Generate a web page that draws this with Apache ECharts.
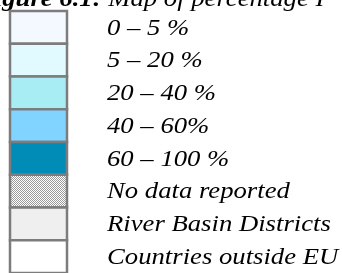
<!DOCTYPE html>
<html>
<head>
<meta charset="utf-8">
<style>
  html, body { margin: 0; padding: 0; background: #fff; }
  #chart { width: 342px; height: 273px; }
</style>
<script src="https://cdn.jsdelivr.net/npm/echarts@6/dist/echarts.min.js"></script>
</head>
<body>
<div id="chart"></div>
<script>
  // legend classes, top to bottom
  const classes = [
    '0 – 5 %',
    '5 – 20 %',
    '20 – 40 %',
    '40 – 60%',
    '60 – 100 %',
    'No data reported',
    'River Basin Districts',
    'Countries outside EU'
  ]
  const swatchColors = ['#f4f8ff', '#e0faff', '#a8ecf4', '#80d4ff', '#008cb6', 'pattern', '#efefef', '#ffffff']
  const fillValues = [1, 1, 1, 1, 1, 1, 1, 1]

  // fine grey/white checkerboard for the "no data" class
  const makeChecker = () => {
    const c = document.createElement('canvas')
    c.width = 2
    c.height = 2
    const ctx = c.getContext('2d')
    ctx.fillStyle = '#ffffff'
    ctx.fillRect(0, 0, 2, 2)
    ctx.fillStyle = '#9a9a9a'
    ctx.fillRect(0, 0, 1, 1)
    ctx.fillRect(1, 1, 1, 1)
    return c
  }
  const checker = makeChecker()

  const chart = echarts.init(document.getElementById('chart'), null, { renderer: 'canvas' })

  const fontFamily = '"Liberation Serif", "Times New Roman", serif'
  const fontSize = 26.7
  // the scanned text is a bit squashed vertically
  const textScaleY = 0.9

  const renderSwatch = (params, api) => {
    const i = api.value(1)
    const topLeft = api.coord([0, i])
    const right = api.coord([api.value(0), i])
    const h = api.size([0, 1])[1]
    const y = topLeft[1] - h / 2
    const fill = swatchColors[i] === 'pattern' ? { image: checker, repeat: 'repeat' } : swatchColors[i]
    return {
      type: 'group',
      children: [
        {
          type: 'rect',
          shape: { x: topLeft[0], y: y, width: right[0] - topLeft[0], height: h },
          style: { fill: fill, stroke: '#7c7c7c', lineWidth: 2.5 }
        },
        {
          type: 'text',
          x: right[0] + 40,
          y: topLeft[1] + 1,
          scaleY: textScaleY,
          style: {
            text: classes[i],
            fontFamily: fontFamily,
            fontStyle: 'italic',
            fontSize: fontSize,
            fill: '#000',
            verticalAlign: 'middle'
          }
        }
      ]
    }
  }

  const option = {
    animation: false,
    grid: { left: 10, top: 11, width: 57, height: 266.4 },
    xAxis: { type: 'value', min: 0, max: 1, show: false },
    yAxis: {
      type: 'category',
      data: classes,
      inverse: true,
      show: false
    },
    graphic: [
      {
        type: 'text',
        x: -23,
        y: 0,
        scaleY: textScaleY,
        style: {
          text: '{b|Figure 6.1:} Map of percentage I',
          fontFamily: fontFamily,
          fontStyle: 'italic',
          fontSize: fontSize,
          fill: '#000',
          verticalAlign: 'middle',
          rich: {
            b: { fontFamily: fontFamily, fontStyle: 'italic', fontWeight: 'bold', fontSize: fontSize }
          }
        }
      }
    ],
    series: [
      {
        type: 'custom',
        renderItem: renderSwatch,
        clip: false,
        data: fillValues.map((v, i) => [v, i])
      }
    ]
  }

  chart.setOption(option)
</script>
</body>
</html>
